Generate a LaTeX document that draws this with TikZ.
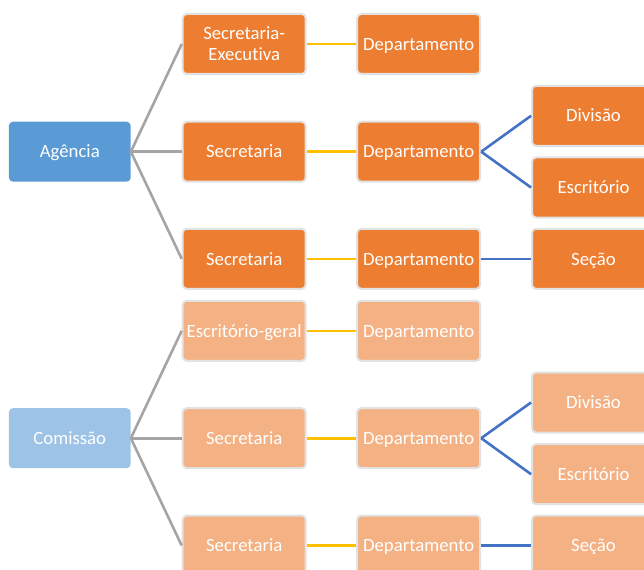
\documentclass[tikz,border=0pt]{standalone}
\usepackage{fontspec}
\setmainfont{Carlito}[Ligatures=NoCommon]
\definecolor{rootdark}{HTML}{5B9BD5}
\definecolor{rootlight}{HTML}{9DC3E6}
\definecolor{unitdark}{HTML}{ED7D31}
\definecolor{unitlight}{HTML}{F4B183}
\definecolor{edgegray}{HTML}{A5A5A5}
\definecolor{edgegold}{HTML}{FFC000}
\definecolor{edgeblue}{HTML}{4472C4}
\definecolor{boxrim}{HTML}{E2E2E2}
\tikzset{
  orgbox/.style={rectangle, rounded corners=4bp, text=white, align=center,
    inner sep=0pt, minimum height=60bp, text height=12.4bp, text depth=0bp,
    font=\fontsize{18.8}{20.6}\selectfont},
  twoline/.style={text height=33bp},
  rootbox/.style={orgbox, minimum width=121.7bp},
  unitbox/.style={orgbox, draw=boxrim, line width=2bp, minimum width=123bp},
  dark/.style={fill=unitdark},
  light/.style={fill=unitlight},
  lvlone/.style={draw=edgegray, line width=2.6bp},
  lvltwo/.style={draw=edgegold, line width=2.6bp},
  lvlthree/.style={draw=edgeblue, line width=2.6bp},
}
\begin{document}
\begin{tikzpicture}[x=1bp, y=-1bp]
\useasboundingbox (0,0) rectangle (644,570);
\clip (0,0) rectangle (644,570);

% ---- Agência branch ----
\node[rootbox, fill=rootdark] (ag) at (69.8,151.7) {Agência};
\node[unitbox, dark, twoline] (a1) at (244.2,44) {Secretaria-\\Executiva};
\node[unitbox, dark] (a2) at (244.2,151.7) {Secretaria};
\node[unitbox, dark] (a3) at (244.2,258.8) {Secretaria};
\node[unitbox, dark] (ad1) at (418.7,44) {Departamento};
\node[unitbox, dark] (ad2) at (418.7,151.7) {Departamento};
\node[unitbox, dark] (ad3) at (418.7,258.8) {Departamento};
\node[unitbox, dark] (adiv) at (593.5,115.8) {Divisão};
\node[unitbox, dark] (aesc) at (593.5,187.5) {Escritório};
\node[unitbox, dark] (asec) at (593.5,258.8) {Seção};

% ---- Comissão branch ----
\node[rootbox, fill=rootlight] (co) at (69.8,438.2) {Comissão};
\node[unitbox, light] (c1) at (244.2,330.8) {Escritório-geral};
\node[unitbox, light] (c2) at (244.2,438.2) {Secretaria};
\node[unitbox, light] (c3) at (244.2,545.5) {Secretaria};
\node[unitbox, light] (cd1) at (418.7,330.8) {Departamento};
\node[unitbox, light] (cd2) at (418.7,438.2) {Departamento};
\node[unitbox, light] (cd3) at (418.7,545.5) {Departamento};
\node[unitbox, light] (cdiv) at (593.5,402.5) {Divisão};
\node[unitbox, light] (cesc) at (593.5,474.2) {Escritório};
\node[unitbox, light] (csec) at (593.5,545.5) {Seção};

% ---- connectors ----
\foreach \r/\c in {ag/a1, ag/a2, ag/a3, co/c1, co/c2, co/c3}
  \draw[lvlone] (\r.east) -- (\c.west);
\foreach \s/\d in {a1/ad1, a2/ad2, a3/ad3, c1/cd1, c2/cd2, c3/cd3}
  \draw[lvltwo] (\s.east) -- (\d.west);
\foreach \d/\e in {ad2/adiv, ad2/aesc, ad3/asec, cd2/cdiv, cd2/cesc, cd3/csec}
  \draw[lvlthree] (\d.east) -- (\e.west);
\end{tikzpicture}
\end{document}
